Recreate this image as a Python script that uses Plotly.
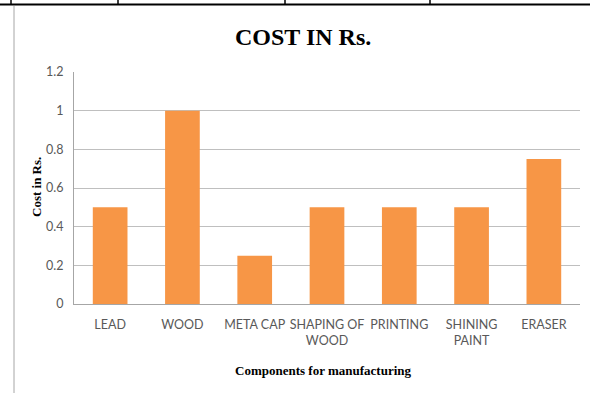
import plotly.graph_objects as go

components = ["LEAD", "WOOD", "META CAP", "SHAPING OF<br>WOOD", "PRINTING",
              "SHINING<br>PAINT", "ERASER"]
cost_rs = [0.5, 1.0, 0.25, 0.5, 0.5, 0.5, 0.75]
y_ticks = [0, 0.2, 0.4, 0.6, 0.8, 1, 1.2]
y_tick_labels = ["0", "0.2", "0.4", "0.6", "0.8", "1", "1.2"]

W, H = 590, 393
L, R, T, B = 74, 10, 72, 89
PW, PH = W - L - R, H - T - B


def px(x):
    return (x - L) / PW


def py(y):
    return (H - B - y) / PH


fig = go.Figure(go.Bar(
    x=components, y=cost_rs,
    marker=dict(color="#F79646", line=dict(width=0)),
    width=0.48,
))

shapes = [
    # table rule across the top
    dict(type="line", xref="paper", yref="paper", x0=px(0), x1=px(W),
         y0=py(4.5), y1=py(4.5), line=dict(color="black", width=2)),
    # chart area left border
    dict(type="line", xref="paper", yref="paper", x0=px(14), x1=px(14),
         y0=py(6), y1=py(H), line=dict(color="#A6A6A6", width=1)),
]
for xv in [11, 118, 285, 430]:
    shapes.append(dict(type="line", xref="paper", yref="paper",
                       x0=px(xv), x1=px(xv), y0=py(0), y1=py(5),
                       line=dict(color="black", width=1.5)))

tick_font = dict(family="Lato, 'DejaVu Sans Condensed', sans-serif",
                 size=12.5, color="#595959")
serif = "Liberation Serif, 'Times New Roman', serif"

fig.update_layout(
    width=W, height=H,
    margin=dict(l=L, r=R, t=T, b=B, autoexpand=False),
    paper_bgcolor="white", plot_bgcolor="white",
    showlegend=False,
    shapes=shapes,
    annotations=[
        dict(text="<b>COST IN Rs.</b>", xref="paper", yref="paper",
             x=px(303), y=py(37), xanchor="center", yanchor="middle",
             showarrow=False,
             font=dict(family=serif, size=24, color="black")),
        dict(text="<b>Components for manufacturing</b>", xref="paper", yref="paper",
             x=px(323), y=py(370), xanchor="center", yanchor="middle",
             showarrow=False,
             font=dict(family=serif, size=13, color="black")),
        dict(text="<b>Cost in Rs.</b>", xref="paper", yref="paper",
             x=px(36), y=py(187), xanchor="center", yanchor="middle",
             showarrow=False, textangle=-90,
             font=dict(family=serif, size=13, color="black")),
    ],
    xaxis=dict(
        showline=True, linecolor="#A6A6A6", linewidth=1,
        ticks="", tickfont=tick_font, showgrid=False, tickangle=0,
        range=[-0.5, 6.5], ticklabelstandoff=9, automargin=False,
    ),
    yaxis=dict(
        range=[0, 1.2], tickvals=y_ticks, ticktext=y_tick_labels,
        showgrid=True, gridcolor="#BFBFBF", gridwidth=1,
        showline=True, linecolor="#A6A6A6", linewidth=1,
        ticks="", tickfont=tick_font, zeroline=False,
        ticklabelstandoff=7, automargin=False,
    ),
)

fig.write_html("out.html")
